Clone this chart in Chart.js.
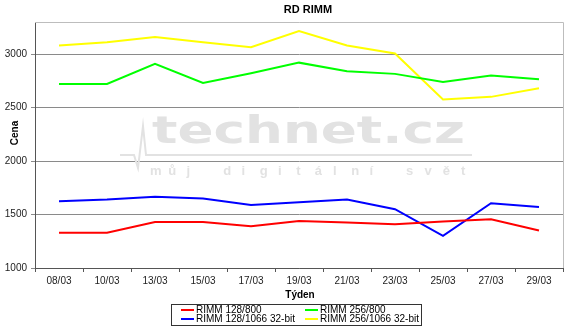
<!DOCTYPE html>
<html>
<head>
<meta charset="utf-8">
<script src="https://cdn.jsdelivr.net/npm/chart.js@4/dist/chart.umd.min.js"></script>
<style>
  html, body { margin: 0; padding: 0; background: #fff; }
  #wrap { width: 570px; height: 330px; }
</style>
</head>
<body>
<div id="wrap"><canvas id="chart" width="570" height="330"></canvas></div>
<script>
// Data
const weeks = ['08/03', '10/03', '13/03', '15/03', '17/03', '19/03', '21/03', '23/03', '25/03', '27/03', '29/03'];
const rimm128_800 = [1330, 1330, 1430, 1430, 1390, 1440, 1425, 1410, 1435, 1455, 1350];
const rimm128_1066 = [1625, 1640, 1665, 1650, 1590, 1615, 1640, 1550, 1300, 1605, 1570];
const rimm256_800 = [2720, 2720, 2910, 2730, 2820, 2920, 2840, 2815, 2740, 2800, 2765];
const rimm256_1066 = [3080, 3110, 3160, 3110, 3065, 3215, 3080, 3005, 2575, 2600, 2680];
const yTicks = [1000, 1500, 2000, 2500, 3000];

const FONT = '"Liberation Sans", Arial, sans-serif';

// Watermark, frame, titles and legend
const decor = {
    id: 'decor',
    beforeDatasetsDraw(chart) {
        const ctx = chart.ctx;
        ctx.save();
        // technet.cz watermark
        ctx.fillStyle = '#e2e2e2';
        ctx.font = 'bold 37px "DejaVu Sans"';
        const w = ctx.measureText('technet.cz').width;
        ctx.translate(152, 143);
        ctx.scale(313 / w, 1);
        ctx.textBaseline = 'alphabetic';
        ctx.fillText('technet.cz', 0, 0);
        ctx.restore();

        ctx.save();
        ctx.strokeStyle = '#e2e2e2';
        ctx.lineWidth = 2;
        ctx.beginPath();
        ctx.moveTo(120, 155);
        ctx.lineTo(134, 155);
        ctx.lineTo(138, 168);
        ctx.lineTo(143, 126);
        ctx.lineTo(146, 155);
        ctx.lineTo(472, 155);
        ctx.stroke();
        ctx.fillStyle = '#e2e2e2';
        ctx.font = 'bold 13px ' + FONT;
        ctx.textBaseline = 'alphabetic';
        const sub = 'můj digitální svět';
        const step = (463 - 152) / (sub.length - 1);
        for (let i = 0; i < sub.length; i++) {
            ctx.fillText(sub[i], 150 + i * step, 175);
        }
        ctx.restore();
    },
    afterDraw(chart) {
        const ctx = chart.ctx;
        const a = chart.chartArea;
        ctx.save();
        // top and right frame
        ctx.strokeStyle = '#bdbdbd';
        ctx.lineWidth = 1;
        ctx.beginPath();
        ctx.moveTo(a.left, a.top + 0.5);
        ctx.lineTo(a.right + 0.5, a.top + 0.5);
        ctx.lineTo(a.right + 0.5, a.bottom);
        ctx.stroke();

        ctx.fillStyle = '#000';
        ctx.textAlign = 'center';
        ctx.textBaseline = 'middle';
        ctx.font = 'bold 11px ' + FONT;
        ctx.fillText('RD RIMM', 308, 10);
        ctx.font = 'bold 10px ' + FONT;
        ctx.fillText('Týden', 300, 295);
        ctx.save();
        ctx.translate(15, 133);
        ctx.rotate(-Math.PI / 2);
        ctx.fillText('Cena', 0, 0);
        ctx.restore();

        // legend
        ctx.strokeStyle = '#333';
        ctx.strokeRect(171.5, 304.5, 250, 21);
        ctx.font = '10px ' + FONT;
        ctx.textAlign = 'left';
        const colX = [181, 305];
        const rowY = [310, 319];
        chart.data.datasets.forEach((ds, i) => {
            const x = colX[Math.floor(i / 2)];
            const y = rowY[i % 2];
            ctx.strokeStyle = ds.borderColor;
            ctx.lineWidth = 2;
            ctx.beginPath();
            ctx.moveTo(x, y);
            ctx.lineTo(x + 13, y);
            ctx.stroke();
            ctx.fillStyle = '#000';
            ctx.fillText(ds.label, x + 15, y);
        });
        ctx.restore();
    }
};

const lineStyle = { borderWidth: 2, pointRadius: 0, tension: 0, fill: false };

new Chart(document.getElementById('chart'), {
    type: 'line',
    data: {
        labels: weeks,
        datasets: [
            { label: 'RIMM 128/800', data: rimm128_800, borderColor: '#ff0000', ...lineStyle },
            { label: 'RIMM 128/1066 32-bit', data: rimm128_1066, borderColor: '#0000ff', ...lineStyle },
            { label: 'RIMM 256/800', data: rimm256_800, borderColor: '#00ff00', ...lineStyle },
            { label: 'RIMM 256/1066 32-bit', data: rimm256_1066, borderColor: '#ffff00', ...lineStyle }
        ]
    },
    options: {
        responsive: false,
        animation: false,
        layout: { padding: { left: 0, right: 7, top: 22, bottom: 0 } },
        plugins: {
            legend: { display: false },
            title: { display: false },
            tooltip: { enabled: false }
        },
        scales: {
            x: {
                offset: true,
                grid: { offset: true, drawOnChartArea: false, tickLength: 4, color: '#555' },
                border: { color: '#555' },
                ticks: { font: { family: FONT, size: 10 }, color: '#222', padding: 3, maxRotation: 0 },
                afterFit(scale) { scale.height = 62; }
            },
            y: {
                min: 1000,
                max: 3300,
                afterBuildTicks(scale) { scale.ticks = yTicks.map(v => ({ value: v })); },
                grid: { color: '#8a8a8a', tickLength: 4 },
                border: { color: '#555' },
                ticks: {
                    font: { family: FONT, size: 10 }, color: '#222', padding: 4,
                    callback: v => String(v)
                },
                afterFit(scale) { scale.width = 35; }
            }
        }
    },
    plugins: [decor]
});
</script>
</body>
</html>
